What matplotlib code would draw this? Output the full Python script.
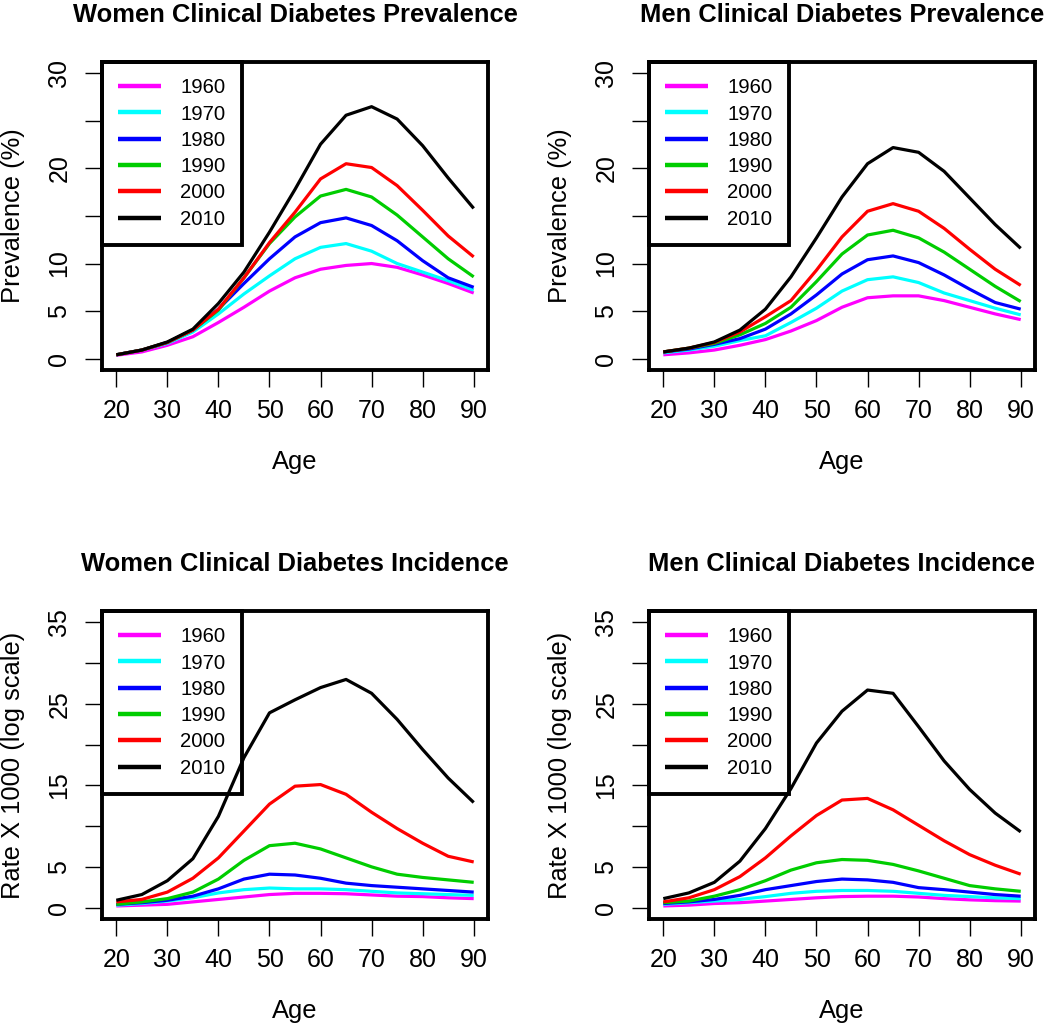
import matplotlib
matplotlib.use("Agg")
import matplotlib.pyplot as plt
import numpy as np

plt.rcParams['font.family'] = ['Liberation Sans', 'DejaVu Sans']

ages = [20, 25, 30, 35, 40, 45, 50, 55, 60, 65, 70, 75, 80, 85, 90]
years = ['1960', '1970', '1980', '1990', '2000', '2010']
colors = ['#FF00FF', '#00FFFF', '#0000FF', '#00CD00', '#FF0000', '#000000']

# women prevalence (%)
w_prev_1960 = [0.35, 0.7, 1.4, 2.3, 3.8, 5.4, 7.1, 8.5, 9.4, 9.8, 10.0, 9.6, 8.8, 7.9, 6.9]
w_prev_1970 = [0.4, 0.9, 1.6, 2.8, 4.7, 6.8, 8.7, 10.5, 11.7, 12.1, 11.3, 10.0, 9.1, 8.2, 7.2]
w_prev_1980 = [0.4, 0.9, 1.7, 3.0, 5.2, 7.9, 10.5, 12.8, 14.3, 14.8, 14.0, 12.4, 10.3, 8.5, 7.5]
w_prev_1990 = [0.4, 0.9, 1.7, 3.0, 5.1, 8.5, 12.1, 14.9, 17.1, 17.8, 17.0, 15.1, 12.8, 10.5, 8.6]
w_prev_2000 = [0.4, 0.9, 1.7, 3.0, 5.2, 8.5, 12.2, 15.4, 18.9, 20.5, 20.1, 18.2, 15.6, 12.9, 10.7]
w_prev_2010 = [0.4, 0.9, 1.75, 3.1, 5.8, 9.1, 13.3, 17.8, 22.55, 25.6, 26.5, 25.2, 22.4, 19.0, 15.8]

# men prevalence (%)
m_prev_1960 = [0.4, 0.6, 0.9, 1.4, 2.0, 2.9, 4.0, 5.4, 6.4, 6.6, 6.6, 6.1, 5.4, 4.7, 4.1]
m_prev_1970 = [0.6, 0.9, 1.3, 1.9, 2.4, 3.8, 5.3, 7.1, 8.3, 8.6, 8.0, 6.9, 6.1, 5.3, 4.6]
m_prev_1980 = [0.7, 1.0, 1.5, 2.1, 3.1, 4.7, 6.7, 8.9, 10.4, 10.8, 10.1, 8.8, 7.3, 5.9, 5.2]
m_prev_1990 = [0.7, 1.1, 1.6, 2.5, 3.7, 5.4, 8.1, 11.0, 13.0, 13.5, 12.7, 11.2, 9.4, 7.6, 6.0]
m_prev_2000 = [0.7, 1.1, 1.7, 2.8, 4.4, 6.1, 9.3, 12.8, 15.5, 16.3, 15.5, 13.7, 11.5, 9.4, 7.7]
m_prev_2010 = [0.7, 1.1, 1.75, 3.0, 5.2, 8.6, 12.7, 17.0, 20.5, 22.2, 21.7, 19.7, 16.9, 14.1, 11.6]

# women incidence (rate x 1000)
w_inc_1960 = [0.2, 0.3, 0.4, 0.7, 1.0, 1.3, 1.6, 1.75, 1.75, 1.7, 1.55, 1.4, 1.35, 1.2, 1.1]
w_inc_1970 = [0.3, 0.5, 0.8, 1.2, 1.8, 2.2, 2.4, 2.3, 2.3, 2.2, 2.0, 1.8, 1.7, 1.6, 1.5]
w_inc_1980 = [0.4, 0.6, 0.9, 1.4, 2.3, 3.5, 4.1, 4.0, 3.6, 3.0, 2.7, 2.5, 2.3, 2.1, 1.9]
w_inc_1990 = [0.4, 0.7, 1.1, 1.9, 3.5, 5.8, 7.6, 7.9, 7.2, 6.1, 5.0, 4.1, 3.7, 3.4, 3.1]
w_inc_2000 = [0.7, 1.0, 1.9, 3.6, 6.1, 9.4, 12.7, 14.9, 15.1, 13.9, 11.7, 9.7, 7.9, 6.3, 5.6]
w_inc_2010 = [0.9, 1.6, 3.3, 6.0, 11.2, 18.4, 23.9, 25.5, 27.0, 28.0, 26.3, 23.1, 19.4, 15.9, 12.9]

# men incidence (rate x 1000)
m_inc_1960 = [0.2, 0.3, 0.5, 0.6, 0.8, 1.0, 1.2, 1.35, 1.4, 1.4, 1.3, 1.1, 0.95, 0.85, 0.8]
m_inc_1970 = [0.4, 0.6, 0.8, 1.0, 1.35, 1.75, 2.0, 2.1, 2.1, 2.0, 1.75, 1.5, 1.35, 1.2, 1.1]
m_inc_1980 = [0.5, 0.7, 1.0, 1.5, 2.2, 2.7, 3.2, 3.5, 3.4, 3.1, 2.45, 2.2, 1.9, 1.6, 1.4]
m_inc_1990 = [0.6, 0.8, 1.4, 2.2, 3.3, 4.6, 5.5, 5.9, 5.8, 5.3, 4.5, 3.6, 2.7, 2.3, 2.0]
m_inc_2000 = [0.7, 1.2, 2.2, 3.8, 6.1, 8.8, 11.3, 13.2, 13.4, 12.0, 10.1, 8.2, 6.5, 5.2, 4.1]
m_inc_2010 = [1.1, 1.8, 3.1, 5.7, 9.7, 14.6, 20.2, 24.1, 26.7, 26.3, 22.2, 18.0, 14.5, 11.6, 9.3]

panels = [
    ("Women Clinical Diabetes Prevalence", "Prevalence (%)", 30, [15, 25],
     [w_prev_1960, w_prev_1970, w_prev_1980, w_prev_1990, w_prev_2000, w_prev_2010]),
    ("Men Clinical Diabetes Prevalence", "Prevalence (%)", 30, [15, 25],
     [m_prev_1960, m_prev_1970, m_prev_1980, m_prev_1990, m_prev_2000, m_prev_2010]),
    ("Women Clinical Diabetes Incidence", "Rate X 1000 (log scale)", 35, [10, 20, 30],
     [w_inc_1960, w_inc_1970, w_inc_1980, w_inc_1990, w_inc_2000, w_inc_2010]),
    ("Men Clinical Diabetes Incidence", "Rate X 1000 (log scale)", 35, [10, 20, 30],
     [m_inc_1960, m_inc_1970, m_inc_1980, m_inc_1990, m_inc_2000, m_inc_2010]),
]

W, H = 1050, 1024
fig = plt.figure(figsize=(W / 100, H / 100), dpi=100)

# axes boxes in pixels: (left, top)
boxes = [(102, 62), (649, 62), (102, 611), (649, 611)]
bw, bh = 386, 308

for (title, ylab, ymax, hide, series), (bx, by) in zip(panels, boxes):
    ax = fig.add_axes([bx / W, 1 - (by + bh) / H, bw / W, bh / H])
    for s, c, yr in zip(series, colors, years):
        ax.plot(ages, s, color=c, lw=2.3, label=yr, solid_capstyle='butt')
    ax.set_xlim(20 - 0.04 * 70, 90 + 0.04 * 70)
    ax.set_ylim(-0.04 * ymax, ymax * 1.04)
    ax.set_xticks(range(20, 91, 10))
    yt = list(range(0, ymax + 1, 5))
    ax.set_yticks(yt)
    ax.set_yticklabels(['' if v in hide else str(v) for v in yt], va='center')
    ax.tick_params(axis='both', direction='out', length=12, width=1, labelsize=18)
    ax.tick_params(axis='y', labelrotation=90, pad=10)
    ax.tick_params(axis='x', pad=9)
    for sp in ax.spines.values():
        sp.set_linewidth(2.8)
    ax.set_title(title, fontsize=18.4, fontweight='bold', pad=29)
    ax.set_xlabel("Age", fontsize=18.4, va='center')
    ax.xaxis.set_label_coords(0.5, -92 / bh)
    ax.set_ylabel(ylab, fontsize=18.4, va='center')
    ax.yaxis.set_label_coords(-89 / bw, 0.5)
    leg = ax.legend(loc='upper left', borderaxespad=0, fontsize=14.6,
                    fancybox=False, edgecolor='black', framealpha=1,
                    handlelength=2.1, handletextpad=0.95, labelspacing=0.36,
                    borderpad=0.8)
    leg.get_frame().set_linewidth(2.8)
    leg.get_frame().set_facecolor('none')
    for ln in leg.get_lines():
        ln.set_linewidth(3.2)

fig.savefig("out.png", dpi=100)
